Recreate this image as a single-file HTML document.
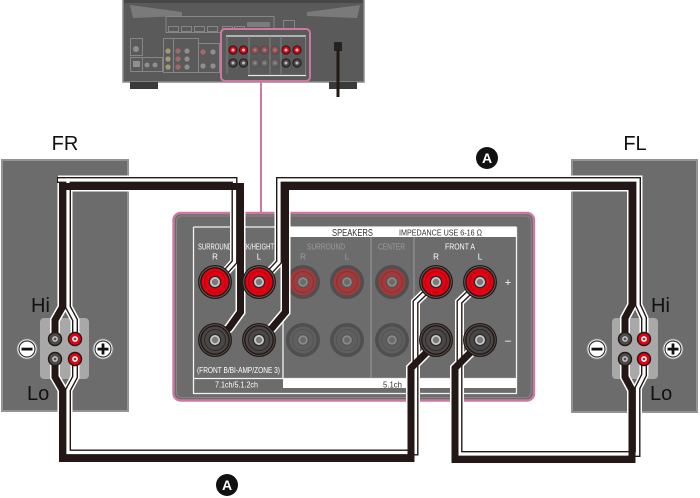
<!DOCTYPE html>
<html><head><meta charset="utf-8"><style>
html,body{margin:0;padding:0;background:#fff;}
svg{display:block;}
text{font-family:"Liberation Sans",sans-serif;}
</style></head><body>
<svg width="700" height="498" viewBox="0 0 700 498" xmlns="http://www.w3.org/2000/svg">
<defs>
 <g id="pr">
  <circle r="17" fill="#231815"/>
  <circle r="15.3" fill="none" stroke="#6a6a6a" stroke-width="0.8"/>
  <circle r="13.5" fill="#e60012"/>
  <circle r="10.5" fill="none" stroke="#b0000e" stroke-width="1"/>
  <circle r="6.3" fill="#2a2a2a"/>
  <circle r="5" fill="#c8c8c8"/>
  <circle r="3.2" fill="#7a7a7a"/>
 </g>
 <g id="pb">
  <circle r="17" fill="#231815"/>
  <circle r="15.3" fill="none" stroke="#5a5a5a" stroke-width="0.8"/>
  <circle r="13.5" fill="#4b4747"/>
  <circle r="10.5" fill="none" stroke="#2e2a2a" stroke-width="1"/>
  <circle r="6.3" fill="#2a2a2a"/>
  <circle r="5" fill="#c8c8c8"/>
  <circle r="3.2" fill="#7a7a7a"/>
 </g>
 <g id="fr">
  <circle r="17" fill="#4f4f4f"/>
  <circle r="13.5" fill="#a23a3c"/>
  <circle r="10.5" fill="none" stroke="#8a3030" stroke-width="1"/>
  <circle r="6" fill="#555"/>
  <circle r="4.8" fill="#8a8a8a"/>
  <circle r="3" fill="#6a6a6a"/>
 </g>
 <g id="fb">
  <circle r="17" fill="#4f4f4f"/>
  <circle r="13.5" fill="#5f5f5f"/>
  <circle r="10.5" fill="none" stroke="#545454" stroke-width="1"/>
  <circle r="6" fill="#555"/>
  <circle r="4.8" fill="#8a8a8a"/>
  <circle r="3" fill="#6a6a6a"/>
 </g>
 <g id="sr"><circle r="7.2" fill="#231815"/><circle r="5.8" fill="#e60012"/><circle r="2.9" fill="#fff"/><circle r="1.4" fill="#555"/></g>
 <g id="sb"><circle r="7.2" fill="#231815"/><circle r="5.8" fill="#4d4a4a"/><circle r="2.9" fill="#c4c4c4"/><circle r="1.4" fill="#555"/></g>
 <g id="mr"><circle r="4.6" fill="#231815"/><circle r="3.6" fill="#e60012"/><circle r="1.5" fill="#ccc"/></g>
 <g id="mfr"><circle r="4.6" fill="#4d4d4d"/><circle r="3.6" fill="#9a4a4a"/><circle r="1.5" fill="#888"/></g>
 <g id="mb"><circle r="4.6" fill="#231815"/><circle r="3.6" fill="#4a4a4a"/><circle r="1.5" fill="#bbb"/></g>
 <g id="mfb"><circle r="4.6" fill="#505050"/><circle r="3.6" fill="#666"/><circle r="1.5" fill="#888"/></g>
</defs>

<!-- Receiver -->
<rect x="123" y="-2" width="241" height="84" fill="#5a5a5a" stroke="#8c8c8c" stroke-width="1.5"/>
<rect x="124" y="0" width="239" height="3" fill="#474747"/>
<polygon points="130,5 133,18 182,16 182,12" fill="#7a7a7a"/>
<polygon points="307,12 307,16 357,18 360,5" fill="#7a7a7a"/>
<rect x="130" y="82" width="28" height="7" fill="#3a3a3a"/>
<rect x="329" y="82" width="28" height="7" fill="#3a3a3a"/>
<g fill="none" stroke="#868686" stroke-width="1">
 <rect x="166" y="16.5" width="108" height="16"/>
 <rect x="168.5" y="26.5" width="10" height="5"/>
 <rect x="181.5" y="26.5" width="10" height="5"/>
 <rect x="194.5" y="26.5" width="10" height="5"/>
 <rect x="207.5" y="26.5" width="10" height="5"/>
 <rect x="222.5" y="26.5" width="10" height="5"/>
 <rect x="234.5" y="26.5" width="10" height="5"/>
 <rect x="283.5" y="20.5" width="11" height="8"/>
 <rect x="130.5" y="38.5" width="12" height="17"/>
 <rect x="130.5" y="57.5" width="12" height="14"/>
 <rect x="142.5" y="57.5" width="20" height="14"/>
 <rect x="163.5" y="38.5" width="10" height="34"/>
 <rect x="173.5" y="38.5" width="25" height="34"/>
 <rect x="198.5" y="43.5" width="21" height="29"/>
</g>
<rect x="247" y="22" width="23" height="5" fill="#7c7c7c"/>
<g fill="#8f8f8f">
 <circle cx="136" cy="49" r="3"/>
 <rect x="133" y="61" width="7" height="6"/>
 <circle cx="147" cy="65" r="2.5"/><circle cx="155" cy="65" r="2.5"/>
 <circle cx="168" cy="51" r="2.6" fill="#a39a70"/><circle cx="168" cy="59" r="2.6" fill="#a39a70"/><circle cx="168" cy="67" r="2.6" fill="#a39a70"/>
 <circle cx="178" cy="51" r="2.6" fill="#a06a6a"/><circle cx="178" cy="59" r="2.6" fill="#a06a6a"/><circle cx="178" cy="67" r="2.6" fill="#a06a6a"/>
 <circle cx="187" cy="51" r="2.6"/><circle cx="187" cy="59" r="2.6"/><circle cx="187" cy="67" r="2.6"/>
 <circle cx="203" cy="52" r="2.6" fill="#a06a6a"/><circle cx="213" cy="52" r="2.6"/>
 <circle cx="203" cy="66" r="2.6"/><circle cx="213" cy="66" r="2.6"/>
</g>
<!-- receiver speaker block -->
<rect x="221" y="29" width="89" height="52" rx="4" fill="#5a5a5a" stroke="#cf77a3" stroke-width="2"/>
<line x1="226" y1="36" x2="306" y2="36" stroke="#e8e8e8" stroke-width="1.3"/>
<line x1="248" y1="75.5" x2="306" y2="75.5" stroke="#e8e8e8" stroke-width="1.3"/>
<g stroke="#8a8a8a" stroke-width="0.8">
 <line x1="227" y1="36" x2="227" y2="74"/>
 <line x1="249" y1="36" x2="249" y2="74"/>
 <line x1="270" y1="36" x2="270" y2="74"/>
 <line x1="281" y1="36" x2="281" y2="74"/>
 <line x1="305.5" y1="36" x2="305.5" y2="74"/>
</g>
<use href="#mr" x="233" y="50"/><use href="#mr" x="243.5" y="50"/>
<use href="#mfr" x="255" y="50"/><use href="#mfr" x="264.5" y="50"/><use href="#mfr" x="275" y="50"/>
<use href="#mr" x="286" y="50"/><use href="#mr" x="297" y="50"/>
<use href="#mb" x="233" y="63"/><use href="#mb" x="243.5" y="63"/>
<use href="#mfb" x="255" y="63"/><use href="#mfb" x="264.5" y="63"/><use href="#mfb" x="275" y="63"/>
<use href="#mb" x="286" y="63"/><use href="#mb" x="297" y="63"/>
<!-- power cord -->
<rect x="334" y="42" width="8" height="9" fill="#222"/>
<line x1="338" y1="50" x2="338" y2="97" stroke="#231815" stroke-width="3"/>

<!-- pink connector line -->
<line x1="261" y1="81" x2="261" y2="214" stroke="#cf77a3" stroke-width="2"/>

<!-- Speaker boxes -->
<rect x="2" y="160" width="126" height="251" fill="#6c6c6c" stroke="#939393" stroke-width="2"/>
<rect x="572" y="160" width="125" height="252" fill="#6c6c6c" stroke="#939393" stroke-width="2"/>
<rect x="40" y="318" width="49" height="61" rx="4" fill="#a8a8a8"/>
<rect x="612" y="318" width="46" height="61" rx="4" fill="#a8a8a8"/>

<text x="65" y="150" font-size="20" text-anchor="middle" fill="#111">FR</text>
<text x="635" y="150" font-size="20" text-anchor="middle" fill="#111">FL</text>
<text x="31" y="312" font-size="20" fill="#111">Hi</text>
<text x="27" y="400" font-size="20" fill="#111">Lo</text>
<text x="651" y="312" font-size="20" fill="#111">Hi</text>
<text x="650" y="400" font-size="20" fill="#111">Lo</text>

<!-- minus / plus -->
<g>
 <circle cx="27" cy="349" r="10" fill="#fff" stroke="#8a8a8a" stroke-width="1"/>
 <circle cx="27" cy="349" r="8" fill="#fff" stroke="#333" stroke-width="1.2"/>
 <rect x="21.5" y="347.7" width="11" height="2.8" fill="#111"/>
 <circle cx="103" cy="349" r="10" fill="#fff" stroke="#8a8a8a" stroke-width="1"/>
 <circle cx="103" cy="349" r="8" fill="#fff" stroke="#333" stroke-width="1.2"/>
 <rect x="97.5" y="347.7" width="11" height="2.8" fill="#111"/>
 <rect x="101.6" y="343.5" width="2.8" height="11" fill="#111"/>
 <circle cx="597" cy="349" r="10" fill="#fff" stroke="#8a8a8a" stroke-width="1"/>
 <circle cx="597" cy="349" r="8" fill="#fff" stroke="#333" stroke-width="1.2"/>
 <rect x="591.5" y="347.7" width="11" height="2.8" fill="#111"/>
 <circle cx="673" cy="349" r="10" fill="#fff" stroke="#8a8a8a" stroke-width="1"/>
 <circle cx="673" cy="349" r="8" fill="#fff" stroke="#333" stroke-width="1.2"/>
 <rect x="667.5" y="347.7" width="11" height="2.8" fill="#111"/>
 <rect x="671.6" y="343.5" width="2.8" height="11" fill="#111"/>
</g>

<!-- Panel -->
<rect x="173.5" y="213" width="360.5" height="187.5" rx="7" fill="#6c6c6c" stroke="#cf77a3" stroke-width="2.4"/>
<rect x="176.5" y="216" width="354.5" height="181.5" rx="5" fill="none" stroke="#8c8c8c" stroke-width="0.8"/>
<!-- header band -->
<rect x="283" y="227" width="233.5" height="10" fill="#fff"/>
<g stroke="#f2f2f2" stroke-width="1.3" fill="none">
 <line x1="193.5" y1="227" x2="516.5" y2="227"/>
 <line x1="193.5" y1="227" x2="193.5" y2="394"/>
 <line x1="516.5" y1="227" x2="516.5" y2="394"/>
 <line x1="283" y1="227" x2="283" y2="379"/>
 <line x1="193.5" y1="378.5" x2="516.5" y2="378.5"/>
 <line x1="193.5" y1="393.5" x2="516.5" y2="393.5"/>
</g>
<rect x="283" y="379" width="233.5" height="9" fill="#fff"/>
<g stroke="#9c9c9c" stroke-width="1">
 <line x1="371" y1="237" x2="371" y2="378"/>
 <line x1="414" y1="237" x2="414" y2="378"/>
</g>
<text x="332" y="236" font-size="10.5" textLength="41" lengthAdjust="spacingAndGlyphs" fill="#333">SPEAKERS</text>
<text x="399" y="235.5" font-size="8.5" textLength="83" lengthAdjust="spacingAndGlyphs" fill="#333">IMPEDANCE USE  6-16 Ω</text>
<text x="198" y="249.5" font-size="8" textLength="76" lengthAdjust="spacingAndGlyphs" fill="#fff">SURROUND BACK/HEIGHT</text>
<text x="215" y="259.5" font-size="8" text-anchor="middle" fill="#fff">R</text>
<text x="259" y="259.5" font-size="8" text-anchor="middle" fill="#fff">L</text>
<text x="307" y="249.5" font-size="8" textLength="38" lengthAdjust="spacingAndGlyphs" fill="#9d9d9d">SURROUND</text>
<text x="303" y="259.5" font-size="8" text-anchor="middle" fill="#9d9d9d">R</text>
<text x="347" y="259.5" font-size="8" text-anchor="middle" fill="#9d9d9d">L</text>
<text x="378" y="249.5" font-size="8" textLength="27" lengthAdjust="spacingAndGlyphs" fill="#9d9d9d">CENTER</text>
<text x="445" y="249.5" font-size="8" textLength="30" lengthAdjust="spacingAndGlyphs" fill="#fff">FRONT A</text>
<text x="436" y="259.5" font-size="8" text-anchor="middle" fill="#fff">R</text>
<text x="480" y="259.5" font-size="8" text-anchor="middle" fill="#fff">L</text>
<text x="508" y="286" font-size="11" text-anchor="middle" fill="#fff">+</text>
<text x="508" y="344" font-size="11" text-anchor="middle" fill="#fff">–</text>
<text x="197" y="373" font-size="8" textLength="83" lengthAdjust="spacingAndGlyphs" fill="#fff">(FRONT B/BI-AMP/ZONE 3)</text>
<text x="215" y="387.5" font-size="8" textLength="43" lengthAdjust="spacingAndGlyphs" fill="#fff">7.1ch/5.1.2ch</text>
<text x="383" y="387.5" font-size="8" textLength="19" lengthAdjust="spacingAndGlyphs" fill="#333">5.1ch</text>

<!-- faded terminals (under cables) -->
<use href="#fr" x="303" y="282"/><use href="#fr" x="347" y="282"/><use href="#fr" x="392" y="282"/>
<use href="#fb" x="303" y="340"/><use href="#fb" x="347" y="340"/><use href="#fb" x="392" y="340"/>

<!-- Cables: halos -->
<g fill="none" stroke="#fff" stroke-linejoin="miter">
 <g stroke-width="10">
  <path d="M55,339 L55,320 L62.5,307 L62.5,186.5 L240.5,186.5 L240.5,312 L229,328 L215,340"/>
  <path d="M258,340 L272,328 L285.5,312 L285.5,186.5 L632,186.5 L632,305 L625,318 L625,339"/>
  <path d="M55,359 L55,377 L62.5,390 L62.5,458.5 L411,458.5 L411,368 L427,352 L436,340"/>
  <path d="M625,359 L625,377 L632,390 L632,459.5 L455,459.5 L455,368 L471,352 L480,340"/>
 </g>
 <g stroke-width="9">
  <path d="M75,339 L75,320 L68,307 L68,180 L234.5,180 L234.5,262 L222,276 L215,282"/>
  <path d="M58,180 L68,180"/>
  <path d="M258,282 L266,276 L279,262 L279,180 L638,180 L638,305 L644,318 L644,339"/>
  <path d="M75,359 L75,377 L68,390 L68,452.5 L415.5,452.5 L415.5,302 L428,290 L436,282"/>
  <path d="M644,359 L644,375 L637.5,388 L637.5,454 L459.5,454 L459.5,302 L472,290 L480,282"/>
 </g>
</g>
<!-- white conductors -->
<g fill="none" stroke-linejoin="miter">
 <g stroke="#231815" stroke-width="6">
  <path d="M75,339 L75,320 L68,307 L68,180 L234.5,180 L234.5,262 L222,276 L215,282"/>
  <path d="M57,180 L68,180"/>
  <path d="M258,282 L266,276 L279,262 L279,180 L638,180 L638,305 L644,318 L644,339"/>
  <path d="M75,359 L75,377 L68,390 L68,452.5 L415.5,452.5 L415.5,302 L428,290 L436,282"/>
  <path d="M644,359 L644,375 L637.5,388 L637.5,454 L459.5,454 L459.5,302 L472,290 L480,282"/>
 </g>
 <g stroke="#fff" stroke-width="3.2">
  <path d="M75,339 L75,320 L68,307 L68,180 L234.5,180 L234.5,262 L222,276 L215,282"/>
  <path d="M58,180 L68,180"/>
  <path d="M258,282 L266,276 L279,262 L279,180 L638,180 L638,305 L644,318 L644,339"/>
  <path d="M75,359 L75,377 L68,390 L68,452.5 L415.5,452.5 L415.5,302 L428,290 L436,282"/>
  <path d="M644,359 L644,375 L637.5,388 L637.5,454 L459.5,454 L459.5,302 L472,290 L480,282"/>
 </g>
</g>
<!-- black conductors -->
<g fill="none" stroke="#231815" stroke-width="7" stroke-linejoin="miter">
 <path d="M55,339 L55,320 L62.5,307 L62.5,186.5 L240.5,186.5 L240.5,312 L229,328 L215,340"/>
 <path d="M258,340 L272,328 L285.5,312 L285.5,186.5 L632,186.5 L632,305 L625,318 L625,339"/>
 <path d="M55,359 L55,377 L62.5,390 L62.5,458.5 L411,458.5 L411,368 L427,352 L436,340"/>
 <path d="M625,359 L625,377 L632,390 L632,459.5 L455,459.5 L455,368 L471,352 L480,340"/>
</g>

<!-- Panel active terminals -->
<use href="#pr" x="215" y="282"/><use href="#pr" x="259" y="282"/>
<use href="#pb" x="215" y="340"/><use href="#pb" x="259" y="340"/>
<use href="#pr" x="436" y="282"/><use href="#pr" x="480" y="282"/>
<use href="#pb" x="436" y="340"/><use href="#pb" x="480" y="340"/>

<!-- Speaker terminals -->
<use href="#sb" x="55" y="339"/><use href="#sr" x="75" y="339"/>
<use href="#sb" x="55" y="359"/><use href="#sr" x="75" y="359"/>
<use href="#sb" x="625" y="339"/><use href="#sr" x="644" y="339"/>
<use href="#sb" x="625" y="359"/><use href="#sr" x="644" y="359"/>

<!-- A labels -->
<circle cx="487" cy="158" r="11" fill="#111"/>
<text x="487" y="163.2" font-size="14" font-weight="bold" text-anchor="middle" fill="#fff">A</text>
<circle cx="227" cy="485" r="11" fill="#111"/>
<text x="227" y="490.2" font-size="14" font-weight="bold" text-anchor="middle" fill="#fff">A</text>
</svg>
</body></html>
